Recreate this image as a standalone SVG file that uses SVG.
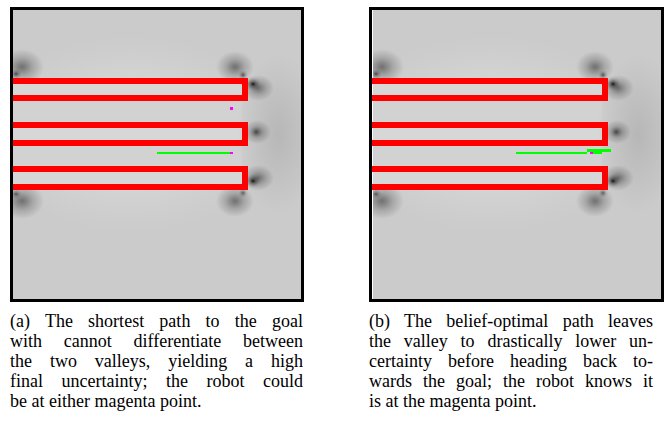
<svg xmlns="http://www.w3.org/2000/svg" xmlns:xlink="http://www.w3.org/1999/xlink" width="667" height="427" viewBox="0 0 667 427">
  <style>
    .frame { fill: none; stroke: #000; stroke-width: 3; }
    .wall { fill: none; stroke: #ff0000; stroke-width: 6; stroke-linejoin: miter; stroke-linecap: butt; }
    .path { fill: #00ff00; }
    .point { fill: #ff00ff; }
    .cap { font-family: "Liberation Serif", "Times New Roman", serif; font-size: 18px; fill: #000; }
  </style>
  <defs>
    <radialGradient id="glow">
      <stop offset="0" stop-color="#dadada" stop-opacity="1"/>
      <stop offset="0.6" stop-color="#d6d6d6" stop-opacity="0.7"/>
      <stop offset="1" stop-color="#d2d2d2" stop-opacity="0"/>
    </radialGradient>
    <radialGradient id="shade">
      <stop offset="0" stop-color="#000" stop-opacity="0.85"/>
      <stop offset="0.35" stop-color="#000" stop-opacity="0.35"/>
      <stop offset="0.7" stop-color="#000" stop-opacity="0.1"/>
      <stop offset="1" stop-color="#000" stop-opacity="0"/>
    </radialGradient>
    <radialGradient id="soft">
      <stop offset="0" stop-color="#000" stop-opacity="0.45"/>
      <stop offset="0.5" stop-color="#000" stop-opacity="0.18"/>
      <stop offset="1" stop-color="#000" stop-opacity="0"/>
    </radialGradient>
    <radialGradient id="haze">
      <stop offset="0" stop-color="#000" stop-opacity="0.1"/>
      <stop offset="1" stop-color="#000" stop-opacity="0"/>
    </radialGradient>
    <clipPath id="inner">
      <rect x="13" y="10" width="289" height="289"/>
    </clipPath>
    <!-- grayscale uncertainty field, drawn once and reused in both panels -->
    <g id="field" clip-path="url(#inner)">
      <rect x="13" y="10" width="289" height="289" fill="#cbcbcb"/>
      <ellipse cx="130" cy="134" rx="150" ry="100" fill="url(#glow)"/>
      <rect x="13" y="84" width="229" height="11" fill="#d7d7d7"/>
      <rect x="13" y="128" width="229" height="12" fill="#d7d7d7"/>
      <rect x="13" y="172" width="229" height="12" fill="#d7d7d7"/>
      <rect x="13" y="101" width="229" height="21" fill="#d2d2d2"/>
      <rect x="13" y="146" width="229" height="20" fill="#d2d2d2"/>
      <ellipse cx="278" cy="134" rx="42" ry="80" fill="url(#haze)"/>
      <!-- dark spots around the wall corners -->
      <ellipse cx="22" cy="67" rx="22" ry="18" fill="url(#soft)"/>
      <ellipse cx="16" cy="74" rx="6" ry="5" fill="url(#shade)" opacity="0.7"/>
      <ellipse cx="22" cy="201" rx="22" ry="18" fill="url(#soft)"/>
      <ellipse cx="16" cy="194" rx="6" ry="5" fill="url(#shade)" opacity="0.6"/>
      <ellipse cx="235" cy="67" rx="19" ry="16" fill="url(#soft)"/>
      <ellipse cx="243" cy="75" rx="5" ry="5" fill="url(#shade)" opacity="0.7"/>
      <ellipse cx="235" cy="201" rx="19" ry="16" fill="url(#soft)"/>
      <ellipse cx="243" cy="193" rx="5" ry="5" fill="url(#shade)" opacity="0.6"/>
      <ellipse cx="258" cy="88" rx="16" ry="13" fill="url(#soft)"/>
      <ellipse cx="253" cy="84" rx="8" ry="7" fill="url(#shade)"/>
      <ellipse cx="257" cy="132" rx="14" ry="12" fill="url(#soft)"/>
      <ellipse cx="256" cy="132" rx="6" ry="6" fill="url(#shade)" opacity="0.45"/>
      <ellipse cx="258" cy="178" rx="16" ry="13" fill="url(#soft)"/>
      <ellipse cx="253" cy="181" rx="8" ry="7" fill="url(#shade)"/>
    </g>
  </defs>

  <g id="panel-a">
    <use xlink:href="#field"/>
    <g id="walls-a">
      <path class="wall" d="M10,81 H245 V98 H10"/>
      <path class="wall" d="M10,125 H245 V143 H10"/>
      <path class="wall" d="M10,169 H245 V187 H10"/>
    </g>
    <rect class="path" x="157" y="152" width="73" height="2"/>
    <rect class="point" x="230" y="107" width="3" height="3"/>
    <rect class="point" x="230" y="152" width="3" height="2"/>
    <rect class="frame" x="11.5" y="8.5" width="291" height="292"/>
  </g>

  <g id="panel-b" transform="translate(360,0)">
    <use xlink:href="#field"/>
    <g id="walls-b">
      <path class="wall" d="M9,81 H245 V98 H9"/>
      <path class="wall" d="M9,125 H245 V143 H9"/>
      <path class="wall" d="M9,169 H245 V187 H9"/>
    </g>
    <rect class="path" x="156" y="152" width="71" height="2"/>
    <rect class="path" x="227" y="149" width="24" height="3"/>
    <rect class="path" x="233" y="152" width="9" height="2"/>
    <rect class="point" x="230" y="152" width="3" height="2"/>
    <rect class="frame" x="10.5" y="8.5" width="292" height="292"/>
  </g>

  <!-- justified caption lines: extra word spacing fills the column -->
  <g id="caption-a" class="cap">
    <text x="10" y="327" word-spacing="10.67" textLength="293" lengthAdjust="spacing">(a) The shortest path to the goal</text>
    <text x="10" y="347" word-spacing="17.19" textLength="293" lengthAdjust="spacing">with cannot differentiate between</text>
    <text x="10" y="367" word-spacing="13.4" textLength="293" lengthAdjust="spacing">the two valleys, yielding a high</text>
    <text x="10" y="387" word-spacing="14" textLength="293" lengthAdjust="spacing">final uncertainty; the robot could</text>
    <text x="10" y="407">be at either magenta point.</text>
  </g>
  <g id="caption-b" class="cap">
    <text x="369" y="327" word-spacing="9.76" textLength="284" lengthAdjust="spacing">(b) The belief-optimal path leaves</text>
    <text x="369" y="347" word-spacing="8.31" textLength="284" lengthAdjust="spacing">the valley to drastically lower un-</text>
    <text x="369" y="367" word-spacing="11.52" textLength="284" lengthAdjust="spacing">certainty before heading back to-</text>
    <text x="369" y="387" word-spacing="6.5" textLength="284" lengthAdjust="spacing">wards the goal; the robot knows it</text>
    <text x="369" y="407">is at the magenta point.</text>
  </g>
</svg>
